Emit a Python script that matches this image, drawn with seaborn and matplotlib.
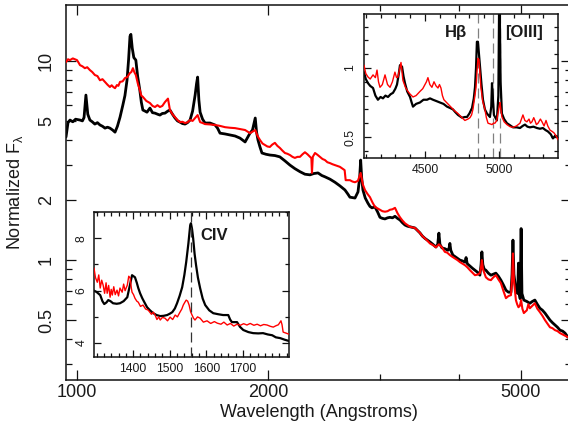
import matplotlib
matplotlib.use("Agg")
import matplotlib.pyplot as plt
from matplotlib.ticker import FixedLocator, FuncFormatter, MultipleLocator, NullFormatter
import seaborn as sns

# ---------------------------------------------------------------------------
# Spectra (wavelength in Angstroms, normalized F_lambda)
# ---------------------------------------------------------------------------
black_main = [
    (961, 4.15), (968, 4.9), (975, 5.05), (985, 4.95), (995, 5.1), (1011, 5.05),
    (1020, 5.0), (1026, 5.2), (1033, 6.74), (1040, 5.4), (1048, 5.05), (1057, 4.95),
    (1067, 4.82), (1077, 4.9), (1087, 4.77), (1097, 4.7), (1107, 4.6), (1117, 4.65),
    (1127, 4.6), (1138, 4.5), (1148, 4.39), (1158, 4.7), (1169, 5.22), (1181, 6.0),
    (1190, 6.7), (1199, 8.0), (1206, 10.2), (1212, 13.3), (1216, 13.6), (1222, 11.6),
    (1229, 10.4), (1238, 10.1), (1246, 8.4), (1256, 7.14), (1263, 6.2), (1270, 5.67),
    (1280, 5.6), (1289, 5.53), (1303, 5.8), (1315, 5.5), (1327, 5.47), (1340, 5.4),
    (1351, 5.35), (1363, 5.45), (1376, 5.47), (1390, 5.6), (1401, 5.67), (1414, 5.4),
    (1427, 5.17), (1440, 5.0), (1453, 4.93), (1466, 4.85), (1480, 4.82), (1493, 4.9),
    (1507, 5.05), (1521, 5.6), (1535, 6.74), (1543, 7.7), (1549, 8.3), (1556, 6.37),
    (1563, 5.53), (1577, 5.1), (1591, 4.88), (1620, 4.88), (1650, 4.77), (1665, 4.6),
    (1680, 4.34), (1711, 4.3), (1742, 4.25), (1774, 4.2), (1806, 4.1), (1840, 3.92),
    (1873, 4.34), (1890, 4.5), (1909, 5.17), (1918, 4.4), (1928, 4.01), (1942, 3.7),
    (1956, 3.45), (1985, 3.4), (2013, 3.37), (2050, 3.35), (2087, 3.3), (2126, 3.15),
    (2165, 3.0), (2204, 2.88), (2245, 2.78), (2286, 2.7), (2328, 2.68), (2360, 2.72),
    (2397, 2.74), (2430, 2.66), (2458, 2.62), (2503, 2.55), (2549, 2.46), (2595, 2.36),
    (2643, 2.25), (2670, 2.15), (2691, 2.07), (2741, 2.05), (2771, 2.2), (2788, 2.6),
    (2798, 3.18), (2808, 2.6), (2821, 2.25), (2845, 2.05), (2873, 1.93), (2894, 1.86),
    (2915, 1.83), (2947, 1.85), (2974, 1.75), (3001, 1.64), (3028, 1.62), (3056, 1.61),
    (3084, 1.63), (3112, 1.64), (3140, 1.63), (3169, 1.66), (3198, 1.62), (3227, 1.59),
    (3256, 1.54), (3286, 1.5), (3316, 1.48), (3346, 1.47), (3376, 1.46), (3407, 1.45),
    (3438, 1.41), (3469, 1.37), (3500, 1.32), (3533, 1.285), (3565, 1.26), (3597, 1.234),
    (3636, 1.2), (3676, 1.163), (3700, 1.2), (3716, 1.366), (3730, 1.2), (3757, 1.152),
    (3800, 1.14), (3839, 1.12), (3856, 1.15), (3867, 1.213), (3880, 1.12), (3909, 1.06),
    (3960, 1.03), (4011, 1.0), (4050, 0.99), (4084, 0.977), (4101, 1.03), (4118, 0.96),
    (4159, 0.933), (4197, 0.91), (4235, 0.89), (4273, 0.87), (4312, 0.84), (4330, 0.95),
    (4343, 1.10), (4358, 0.95), (4380, 0.9), (4406, 0.89), (4446, 0.86), (4487, 0.84),
    (4528, 0.85), (4569, 0.86), (4611, 0.83), (4653, 0.793), (4696, 0.75), (4739, 0.706),
    (4782, 0.69), (4826, 0.69), (4845, 0.85), (4861, 1.26), (4878, 0.85), (4913, 0.706),
    (4945, 0.68), (4959, 0.966), (4972, 0.68), (4990, 0.64), (5007, 1.44), (5022, 0.68),
    (5057, 0.63), (5112, 0.62), (5168, 0.607), (5215, 0.62), (5263, 0.63), (5310, 0.6),
    (5360, 0.573), (5410, 0.56), (5459, 0.542), (5509, 0.52), (5559, 0.5), (5610, 0.485),
    (5661, 0.472), (5713, 0.46), (5765, 0.445), (5820, 0.44), (5871, 0.43), (5935, 0.41),
]

red_main = [
    (961, 9.87), (968, 10.2), (975, 10.1), (985, 10.3), (1000, 10.1), (1006, 9.8),
    (1011, 9.53), (1020, 9.4), (1029, 9.2), (1038, 9.3), (1048, 9.0), (1057, 8.8),
    (1067, 8.5), (1077, 8.4), (1087, 8.0), (1097, 8.1), (1107, 7.85), (1117, 7.6),
    (1127, 7.4), (1134, 7.55), (1141, 7.4), (1148, 7.3), (1156, 7.57), (1162, 7.5),
    (1169, 7.85), (1180, 7.9), (1190, 8.2), (1200, 8.3), (1212, 8.7), (1218, 8.8),
    (1225, 9.2), (1231, 8.8), (1238, 8.5), (1247, 7.7), (1256, 7.14), (1263, 6.7),
    (1270, 6.6), (1286, 6.3), (1303, 6.15), (1315, 5.95), (1327, 5.87), (1339, 6.0),
    (1351, 5.87), (1363, 5.95), (1376, 6.22), (1391, 6.47), (1401, 5.67), (1414, 5.4),
    (1427, 5.22), (1440, 5.05), (1453, 4.93), (1466, 4.95), (1480, 4.88), (1493, 4.92),
    (1507, 5.05), (1521, 5.0), (1535, 5.17), (1549, 5.35), (1563, 4.93), (1577, 4.88),
    (1591, 4.82), (1620, 4.8), (1650, 4.77), (1680, 4.72), (1711, 4.65), (1742, 4.62),
    (1774, 4.6), (1806, 4.55), (1840, 4.5), (1873, 4.34), (1909, 4.5), (1925, 4.2),
    (1942, 4.01), (1960, 3.85), (1978, 3.78), (1995, 3.72), (2013, 3.7), (2030, 3.8),
    (2050, 3.88), (2068, 3.75), (2087, 3.66), (2106, 3.55), (2126, 3.45), (2145, 3.42),
    (2165, 3.37), (2185, 3.3), (2204, 3.26), (2225, 3.3), (2245, 3.3), (2266, 3.4),
    (2286, 3.48), (2307, 3.4), (2328, 3.3), (2340, 3.25), (2345, 2.74), (2352, 3.3),
    (2371, 3.45), (2392, 3.38), (2414, 3.3), (2436, 3.22), (2458, 3.18), (2480, 3.1),
    (2503, 3.07), (2526, 3.03), (2549, 3.0), (2572, 2.97), (2595, 2.94), (2619, 2.88),
    (2640, 2.83), (2650, 2.52), (2670, 2.52), (2691, 2.52), (2716, 2.48), (2741, 2.46),
    (2770, 2.5), (2798, 2.74), (2820, 2.4), (2842, 2.25), (2868, 2.15), (2894, 2.07),
    (2920, 1.95), (2947, 1.85), (2974, 1.82), (3001, 1.79), (3028, 1.76), (3056, 1.75),
    (3084, 1.76), (3112, 1.79), (3140, 1.8), (3169, 1.83), (3198, 1.72), (3227, 1.64),
    (3256, 1.58), (3286, 1.53), (3316, 1.5), (3346, 1.47), (3376, 1.46), (3407, 1.45),
    (3438, 1.41), (3469, 1.37), (3500, 1.32), (3533, 1.285), (3565, 1.25), (3597, 1.213),
    (3636, 1.19), (3676, 1.16), (3716, 1.2), (3757, 1.16), (3797, 1.10), (3830, 1.09),
    (3867, 1.06), (3900, 1.04), (3937, 1.02), (3975, 1.0), (4011, 0.977), (4048, 0.96),
    (4084, 0.943), (4120, 0.92), (4159, 0.89), (4197, 0.865), (4235, 0.84), (4273, 0.845),
    (4312, 0.86), (4330, 0.92), (4343, 1.00), (4360, 0.9), (4406, 0.82), (4446, 0.8),
    (4487, 0.793), (4528, 0.82), (4569, 0.84), (4611, 0.8), (4653, 0.766), (4696, 0.7),
    (4739, 0.644), (4782, 0.66), (4826, 0.667), (4845, 0.8), (4861, 1.08), (4880, 0.78),
    (4913, 0.63), (4936, 0.6), (4959, 0.58), (4985, 0.59), (5007, 0.63), (5030, 0.57),
    (5057, 0.542), (5112, 0.56), (5140, 0.6), (5168, 0.573), (5215, 0.59), (5263, 0.607),
    (5310, 0.57), (5360, 0.548), (5410, 0.525), (5459, 0.5), (5509, 0.48), (5559, 0.46),
    (5610, 0.455), (5661, 0.445), (5713, 0.44), (5765, 0.43), (5850, 0.42), (5935, 0.41),
]

# CIV region
civ_black = [
    (1293, 6.0), (1300, 5.95), (1310, 5.83), (1316, 5.6), (1321, 5.49), (1327, 5.55),
    (1332, 5.64), (1338, 5.6), (1345, 5.52), (1355, 5.5), (1364, 5.52), (1374, 5.6),
    (1384, 5.75), (1391, 6.2), (1397, 6.59), (1405, 6.51), (1410, 6.3), (1414, 6.1),
    (1419, 5.9), (1425, 5.71), (1431, 5.55), (1438, 5.37), (1446, 5.25), (1455, 5.14),
    (1464, 5.07), (1474, 5.03), (1483, 5.04), (1493, 5.07), (1500, 5.12), (1507, 5.18),
    (1514, 5.32), (1520, 5.52), (1527, 5.8), (1534, 6.13), (1540, 6.6), (1545, 7.09),
    (1551, 7.8), (1556, 8.5), (1558, 8.57), (1561, 8.35), (1564, 8.0), (1568, 7.4),
    (1572, 6.97), (1577, 6.5), (1583, 6.1), (1590, 5.7), (1597, 5.45), (1608, 5.25),
    (1619, 5.14), (1633, 5.1), (1646, 5.07), (1660, 5.07), (1665, 4.9), (1670, 4.8),
    (1684, 4.8), (1692, 4.62), (1701, 4.5), (1715, 4.42), (1728, 4.38), (1742, 4.37),
    (1755, 4.38), (1768, 4.33), (1780, 4.3), (1790, 4.22), (1802, 4.19), (1814, 4.13),
    (1826, 4.08),
]

civ_red = [
    (1293, 6.86), (1297, 6.5), (1302, 6.32), (1306, 6.6), (1310, 6.10), (1314, 6.4),
    (1318, 6.21), (1322, 5.9), (1326, 6.3), (1329, 5.90), (1333, 6.2), (1337, 5.75),
    (1340, 6.05), (1343, 5.83), (1347, 6.15), (1351, 5.85), (1356, 6.02), (1360, 5.8),
    (1364, 6.1), (1370, 5.94), (1374, 6.25), (1378, 6.0), (1384, 6.21), (1388, 6.55),
    (1392, 6.48), (1395, 6.1), (1397, 5.94), (1401, 5.85), (1405, 5.71), (1410, 5.6),
    (1414, 5.56), (1420, 5.4), (1427, 5.45), (1434, 5.3), (1441, 5.26), (1450, 5.1),
    (1455, 5.18), (1460, 5.07), (1465, 4.9), (1470, 5.0), (1474, 4.88), (1480, 4.98),
    (1487, 4.95), (1494, 4.85), (1501, 4.99), (1508, 4.9), (1515, 5.07), (1521, 5.0),
    (1528, 5.18), (1533, 5.3), (1537, 5.45), (1541, 5.55), (1545, 5.64), (1549, 5.6),
    (1553, 5.45), (1557, 5.2), (1561, 5.07), (1565, 4.95), (1569, 4.88), (1576, 5.0),
    (1583, 4.95), (1592, 4.8), (1602, 4.85), (1612, 4.75), (1622, 4.82), (1630, 4.76),
    (1640, 4.72), (1648, 4.8), (1657, 4.69), (1666, 4.75), (1675, 4.65), (1684, 4.72),
    (1693, 4.68), (1702, 4.74), (1711, 4.69), (1720, 4.75), (1730, 4.68), (1739, 4.72),
    (1748, 4.66), (1757, 4.71), (1766, 4.69), (1775, 4.64), (1783, 4.61), (1790, 4.66),
    (1797, 4.7), (1804, 4.85), (1807, 4.7), (1810, 4.42), (1818, 4.38), (1826, 4.34),
]

# H-beta / [OIII] region
hb_black = [
    (4088, 0.97), (4100, 0.92), (4115, 0.89), (4130, 0.87), (4149, 0.855), (4165, 0.8),
    (4182, 0.77), (4200, 0.79), (4216, 0.78), (4233, 0.8), (4250, 0.79), (4268, 0.81),
    (4284, 0.82), (4300, 0.85), (4311, 0.88), (4322, 0.95), (4331, 1.02), (4345, 1.01),
    (4355, 0.94), (4365, 0.89), (4380, 0.83), (4399, 0.79), (4410, 0.75), (4419, 0.72),
    (4440, 0.74), (4466, 0.75), (4490, 0.77), (4514, 0.77), (4534, 0.78), (4554, 0.77),
    (4578, 0.76), (4601, 0.75), (4625, 0.74), (4649, 0.72), (4670, 0.71), (4689, 0.70),
    (4705, 0.68), (4723, 0.66), (4750, 0.64), (4770, 0.645), (4784, 0.645), (4800, 0.67),
    (4818, 0.71), (4830, 0.78), (4838, 0.86), (4845, 1.0), (4851, 1.19), (4858, 1.19),
    (4865, 1.1), (4872, 1.01), (4882, 0.88), (4892, 0.77), (4905, 0.7), (4919, 0.67),
    (4939, 0.645), (4948, 0.72), (4953, 0.89), (4958, 0.8), (4966, 0.66), (4986, 0.62),
    (4996, 0.8), (5001, 1.45), (5005, 1.45), (5011, 0.9), (5020, 0.67), (5035, 0.63),
    (5054, 0.60), (5075, 0.585), (5095, 0.57), (5120, 0.57), (5142, 0.565), (5160, 0.58),
    (5176, 0.59), (5192, 0.575), (5209, 0.57), (5233, 0.575), (5257, 0.565), (5277, 0.56),
    (5297, 0.565), (5315, 0.55), (5331, 0.54), (5350, 0.52), (5365, 0.49), (5380, 0.51),
    (5399, 0.50),
]

hb_red = [
    (4088, 1.02), (4100, 0.96), (4115, 0.935), (4130, 0.92), (4149, 0.95), (4165, 0.93),
    (4176, 0.985), (4186, 0.9), (4196, 0.86), (4212, 0.88), (4230, 0.95), (4247, 0.88),
    (4264, 0.86), (4280, 0.9), (4297, 0.97), (4308, 0.93), (4318, 0.935), (4330, 1.0),
    (4338, 1.04), (4351, 0.91), (4368, 0.86), (4385, 0.83), (4400, 0.81), (4419, 0.79),
    (4440, 0.8), (4466, 0.83), (4485, 0.85), (4500, 0.88), (4510, 0.9), (4520, 0.93),
    (4533, 0.88), (4547, 0.86), (4561, 0.90), (4575, 0.87), (4588, 0.855), (4598, 0.88),
    (4608, 0.855), (4618, 0.8), (4628, 0.77), (4655, 0.74), (4682, 0.71), (4700, 0.69),
    (4723, 0.67), (4745, 0.645), (4770, 0.62), (4790, 0.63), (4804, 0.64), (4815, 0.66),
    (4824, 0.70), (4835, 0.78), (4845, 0.86), (4852, 0.98), (4858, 1.07), (4865, 1.06),
    (4871, 0.97), (4878, 0.86), (4890, 0.76), (4905, 0.70), (4915, 0.64), (4926, 0.60),
    (4940, 0.595), (4953, 0.59), (4963, 0.6), (4973, 0.60), (4985, 0.62), (4993, 0.67),
    (5002, 0.72), (5007, 0.75), (5013, 0.7), (5020, 0.645), (5035, 0.61), (5054, 0.59),
    (5075, 0.575), (5095, 0.57), (5118, 0.58), (5142, 0.60), (5152, 0.63), (5162, 0.66),
    (5175, 0.62), (5189, 0.61), (5203, 0.63), (5213, 0.6), (5223, 0.61), (5235, 0.64),
    (5243, 0.62), (5253, 0.59), (5264, 0.60), (5280, 0.63), (5291, 0.61), (5305, 0.58),
    (5318, 0.62), (5330, 0.58), (5345, 0.55), (5360, 0.54), (5372, 0.53), (5385, 0.51),
    (5399, 0.48),
]

civ_line = [1557]
hb_lines = [4861, 4959, 5007]

main_xticks = [1000, 2000, 5000]
main_xminor = [3000, 4000, 6000]
main_yticks = [0.5, 1, 2, 5, 10]
main_yminor = [0.3, 0.4, 0.6, 0.7, 0.8, 0.9, 3, 4, 6, 7, 8, 9]
civ_xticks = [1400, 1500, 1600, 1700]
civ_yticks = [4, 6, 8]
hb_xticks = [4500, 5000]
hb_yticks = [0.5, 1]

# ---------------------------------------------------------------------------
sns.set_style("ticks")
plt.rcParams["font.family"] = ["Liberation Sans", "DejaVu Sans"]
plt.rcParams["mathtext.fontset"] = "custom"
plt.rcParams["mathtext.rm"] = "Liberation Sans"
plt.rcParams["mathtext.it"] = "Liberation Sans:italic"

TXT = "#1a1a1a"
BLACK = "#000000"
RED = "#ff0000"

fig = plt.figure(figsize=(5.68, 4.29), dpi=100)
W, H = 568.0, 429.0


def box(l, t, r, b):
    return [l / W, 1 - b / H, (r - l) / W, (b - t) / H]


def trace(ax, pairs, color, lw, z):
    xs = [p[0] for p in pairs]
    ys = [p[1] for p in pairs]
    sns.lineplot(x=xs, y=ys, ax=ax, color=color, lw=lw, sort=False,
                 estimator=None, zorder=z, legend=False)


def style_frame(ax, major_len, minor_len, size, pad_x, pad_y):
    for s in ax.spines.values():
        s.set_visible(True)
        s.set_linewidth(1.1)
        s.set_color("#111111")
    ax.tick_params(which="both", direction="in", top=True, right=True,
                   width=0.9, color="#111111", labelcolor=TXT, labelsize=size)
    ax.tick_params(which="major", length=major_len)
    ax.tick_params(which="minor", length=minor_len)
    ax.tick_params(axis="x", pad=pad_x)
    ax.tick_params(axis="y", pad=pad_y, labelrotation=90)
    for lab in ax.get_yticklabels():
        lab.set_verticalalignment("center")


fmt = FuncFormatter(lambda v, _: f"{v:g}")

# ---- main panel ----------------------------------------------------------
ax = fig.add_axes(box(66, 5, 571, 380))
ax.set_xscale("log")
ax.set_yscale("log")
trace(ax, black_main, BLACK, 2.0, 2)
trace(ax, red_main, RED, 1.5, 3)
ax.set_xlim(961, 6000)
ax.set_ylim(0.25, 19.1)
ax.xaxis.set_major_locator(FixedLocator(main_xticks))
ax.xaxis.set_minor_locator(FixedLocator(main_xminor))
ax.xaxis.set_major_formatter(fmt)
ax.xaxis.set_minor_formatter(NullFormatter())
ax.yaxis.set_major_locator(FixedLocator(main_yticks))
ax.yaxis.set_minor_locator(FixedLocator(main_yminor))
ax.yaxis.set_major_formatter(fmt)
ax.yaxis.set_minor_formatter(NullFormatter())
style_frame(ax, 7, 4, 13, 3, 8)
ax.set_xlabel("Wavelength (Angstroms)", fontsize=13, color=TXT, labelpad=2)
ax.set_ylabel(r"Normalized F$_{\mathrm{\lambda}}$", fontsize=13, color=TXT)
ax.yaxis.set_label_coords(-0.082, 0.5)

# ---- CIV inset -----------------------------------------------------------
ax1 = fig.add_axes(box(94, 212, 289, 357), zorder=5)
ax1.set_facecolor("white")
trace(ax1, civ_black, BLACK, 1.6, 2)
trace(ax1, civ_red, RED, 1.0, 3)
for w in civ_line:
    ax1.axvline(w, color="#333333", lw=0.9, ls=(0, (8, 4)), zorder=4)
ax1.set_xlim(1293, 1826)
ax1.set_ylim(3.47, 9.0)
ax1.xaxis.set_major_locator(FixedLocator(civ_xticks))
ax1.xaxis.set_minor_locator(MultipleLocator(20))
ax1.yaxis.set_major_locator(FixedLocator(civ_yticks))
ax1.yaxis.set_minor_locator(MultipleLocator(1))
ax1.xaxis.set_major_formatter(fmt)
ax1.yaxis.set_major_formatter(fmt)
style_frame(ax1, 5, 3, 8.8, 4.5, 4.5)
ax1.text(1583, 8.1, "CIV", fontsize=12, fontweight="bold", color=TXT,
         ha="left", va="center", zorder=6)

# ---- H-beta / [OIII] inset -----------------------------------------------
ax2 = fig.add_axes(box(364, 14, 558, 158), zorder=5)
ax2.set_facecolor("white")
trace(ax2, hb_black, BLACK, 1.6, 2)
trace(ax2, hb_red, RED, 1.0, 3)
for w in hb_lines:
    ax2.axvline(w, color="#808080", lw=0.9, ls=(0, (8, 4)), zorder=1)
ax2.set_xlim(4088, 5399)
ax2.set_ylim(0.348, 1.391)
ax2.xaxis.set_major_locator(FixedLocator(hb_xticks))
ax2.xaxis.set_minor_locator(MultipleLocator(100))
ax2.yaxis.set_major_locator(FixedLocator(hb_yticks))
ax2.yaxis.set_minor_locator(MultipleLocator(0.1))
ax2.xaxis.set_major_formatter(fmt)
ax2.yaxis.set_major_formatter(fmt)
style_frame(ax2, 5, 3, 8.8, 4.5, 5.5)
ax2.text(4635, 1.26, "H\u03b2", fontsize=12, fontweight="bold", color=TXT,
         ha="left", va="center", zorder=6)
ax2.text(5041, 1.26, "[OIII]", fontsize=12, fontweight="bold", color=TXT,
         ha="left", va="center", zorder=6)

fig.savefig("out.png", dpi=100)
